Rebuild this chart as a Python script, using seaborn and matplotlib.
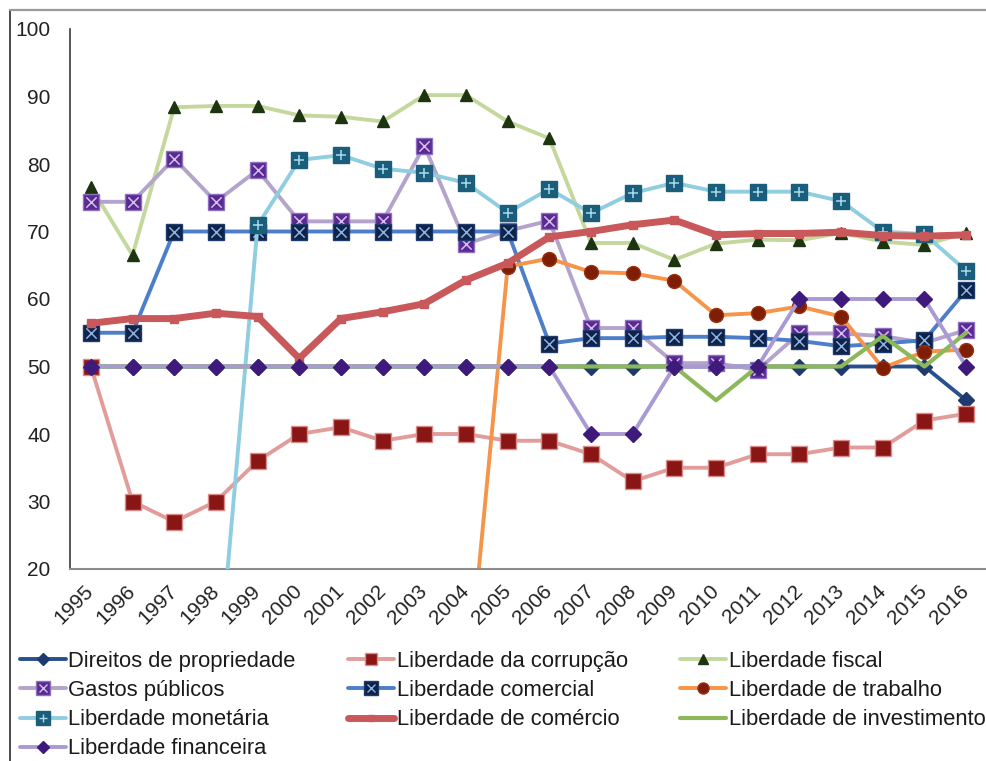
import numpy as np
import seaborn as sns
import matplotlib
matplotlib.use("Agg")
import matplotlib.pyplot as plt
from matplotlib.lines import Line2D
from matplotlib.legend_handler import HandlerTuple

# --- data -----------------------------------------------------------------
years = ["1995", "1996", "1997", "1998", "1999", "2000", "2001", "2002",
         "2003", "2004", "2005", "2006", "2007", "2008", "2009", "2010",
         "2011", "2012", "2013", "2014", "2015", "2016"]

direitos_propriedade = [50, 50, 50, 50, 50, 50, 50, 50, 50, 50, 50,
                        50, 50, 50, 50, 50, 50, 50, 50, 50, 50, 45]
liberdade_corrupcao = [50, 30, 27, 30, 36, 40, 41, 39, 40, 40, 39,
                       39, 37, 33, 35, 35, 37, 37, 38, 38, 42, 43]
liberdade_fiscal = [76.6, 66.5, 88.4, 88.6, 88.6, 87.2, 87.0, 86.3, 90.2, 90.2, 86.3,
                    83.8, 68.3, 68.3, 65.8, 68.2, 68.8, 68.7, 69.8, 68.5, 68.0, 69.8]
gastos_publicos = [74.4, 74.4, 80.8, 74.4, 79.1, 71.5, 71.5, 71.5, 82.7, 68.2, 70.1,
                   71.6, 55.7, 55.7, 50.5, 50.5, 49.5, 54.9, 54.9, 54.5, 53.5, 55.4]
liberdade_comercial = [55, 55, 70, 70, 70, 70, 70, 70, 70, 70, 70,
                       53.4, 54.2, 54.2, 54.4, 54.4, 54.2, 53.8, 53.0, 53.4, 53.9, 61.3]
liberdade_trabalho = [0, 0, 0, 0, 0, 0, 0, 0, 0, 0, 64.8,
                      66.0, 64.0, 63.8, 62.7, 57.6, 57.9, 58.9, 57.4, 49.8, 52.2, 52.5]
liberdade_monetaria = [0, 0, 0, 0, 70.9, 80.6, 81.3, 79.3, 78.7, 77.2, 72.8,
                       76.3, 72.7, 75.7, 77.2, 75.9, 75.9, 75.9, 74.5, 70.0, 69.6, 64.2]
liberdade_comercio = [56.4, 57.1, 57.1, 57.9, 57.4, 51.2, 57.1, 58.1, 59.3, 62.8, 65.3,
                      69.2, 70.0, 71.0, 71.7, 69.5, 69.7, 69.7, 69.9, 69.4, 69.3, 69.5]
liberdade_investimento = [50, 50, 50, 50, 50, 50, 50, 50, 50, 50, 50,
                          50, 50, 50, 50, 45, 50, 50, 50, 54.5, 50, 55]
liberdade_financeira = [50, 50, 50, 50, 50, 50, 50, 50, 50, 50, 50,
                        50, 40, 40, 50, 50, 50, 60, 60, 60, 60, 50]

y_ticks = [20, 30, 40, 50, 60, 70, 80, 90, 100]

# label, values, line colour, line width, marker, marker size, face, edge,
# inner symbol, inner symbol colour
series = [
    ("Direitos de propriedade", direitos_propriedade, "#27508F", 2.8, "D", 8, "#1F3A6E", "#1F3A6E", None, None),
    ("Liberdade da corrupção", liberdade_corrupcao, "#E29C9A", 2.8, "s", 11, "#8A1515", "#D98C8A", None, None),
    ("Liberdade fiscal", liberdade_fiscal, "#C4D89D", 2.8, "^", 9, "#1C3410", "#1C3410", None, None),
    ("Gastos públicos", gastos_publicos, "#B4A3CA", 2.8, "s", 12, "#5A2A92", "#8E70C0", "x", "#D2C0F0"),
    ("Liberdade comercial", liberdade_comercial, "#4C7ECA", 2.8, "s", 12, "#0F2247", "#1F3A6E", "x", "#8DB3E2"),
    ("Liberdade de trabalho", liberdade_trabalho, "#F6944A", 2.8, "o", 10, "#7E1E05", "#9A3010", None, None),
    ("Liberdade monetária", liberdade_monetaria, "#8FCDE0", 2.8, "s", 12, "#1B5E7B", "#1B5E7B", "+", "#A8DCEC"),
    ("Liberdade de comércio", liberdade_comercio, "#C9585A", 5.0, "s", 6, "#C9585A", "#C9585A", None, None),
    ("Liberdade de investimento", liberdade_investimento, "#8DB85A", 3.0, None, 0, None, None, None, None),
    ("Liberdade financeira", liberdade_financeira, "#A99AD4", 2.8, "D", 8, "#3E1A7C", "#3E1A7C", None, None),
]

# --- style ----------------------------------------------------------------
sns.set_theme(style="white")
plt.rcParams["font.family"] = ["Liberation Sans", "DejaVu Sans"]

W, H = 986, 761
fig = plt.figure(figsize=(W / 100, H / 100), dpi=100)
fig.patch.set_facecolor("white")
ax = fig.add_axes([70 / W, 1 - 569 / H, (987 - 70) / W, (569 - 29) / H])
ax.set_facecolor("white")

x = np.arange(len(years))
handles = {}
for i, (label, vals, lc, lw, mk, ms, fc, ec, sym, symc) in enumerate(series):
    z = 2 + i * 0.1
    kw = dict(color=lc, linewidth=lw, zorder=z, estimator=None, sort=False, legend=False)
    if mk is not None:
        kw.update(marker=mk, markersize=ms, markerfacecolor=fc,
                  markeredgecolor=ec, markeredgewidth=1.0)
    sns.lineplot(x=x, y=vals, ax=ax, **kw)
    base = Line2D([], [], color=lc, linewidth=lw,
                  marker=mk if mk else "None", markersize=ms * 0.8,
                  markerfacecolor=fc, markeredgecolor=ec)
    if sym is not None:
        sns.scatterplot(x=x, y=vals, ax=ax, marker=sym, s=(ms * 0.62) ** 2,
                        color=symc, linewidth=1.1, zorder=z + 0.05, legend=False)
        inner = Line2D([], [], linestyle="None", marker=sym, markersize=ms * 0.5,
                       markeredgecolor=symc, markeredgewidth=1.0)
        handles[label] = (base, inner)
    else:
        handles[label] = base

ax.set_xlim(-0.5, len(years) - 0.5)
ax.set_ylim(20, 100)
ax.set_yticks(y_ticks)
ax.set_yticklabels([str(v) for v in y_ticks])
ax.set_xticks(x)
ax.set_xticklabels(years, rotation=45, ha="right", va="center", rotation_mode="anchor")
ax.tick_params(axis="x", length=0, pad=14, labelsize=15, colors="#222222")
ax.tick_params(axis="y", length=0, pad=14, labelsize=15, colors="#222222")
for s in ("top", "right"):
    ax.spines[s].set_visible(False)
ax.spines["left"].set_color("#3a3a3a")
ax.spines["left"].set_linewidth(1.2)
ax.spines["bottom"].set_color("#8c8c8c")
ax.spines["bottom"].set_linewidth(1.5)
ax.set_xlabel("")
ax.set_ylabel("")

# legend: three columns, filled column by column
order = ["Direitos de propriedade", "Gastos públicos", "Liberdade monetária", "Liberdade financeira",
         "Liberdade da corrupção", "Liberdade comercial", "Liberdade de comércio",
         "Liberdade fiscal", "Liberdade de trabalho", "Liberdade de investimento"]
leg = fig.legend([handles[k] for k in order], order, ncol=3,
                 loc="upper left", bbox_to_anchor=(20 / W, 1 - 651 / H),
                 frameon=False, fontsize=15.8, handlelength=2.1, handletextpad=0.1,
                 columnspacing=2.4, labelspacing=0.37, borderpad=0, borderaxespad=0,
                 numpoints=1, handler_map={tuple: HandlerTuple(ndivide=1)})
for t in leg.get_texts():
    t.set_color("#1a1a1a")

# outer frame lines
fig.add_artist(Line2D([10 / W, 10 / W], [0, 1 - 10 / H], transform=fig.transFigure,
                      color="#4a4a4a", linewidth=1.4))
fig.add_artist(Line2D([10 / W, 1], [1 - 10 / H, 1 - 10 / H], transform=fig.transFigure,
                      color="#9a9a9a", linewidth=1.6))

fig.savefig("out.png", dpi=100, facecolor="white")
